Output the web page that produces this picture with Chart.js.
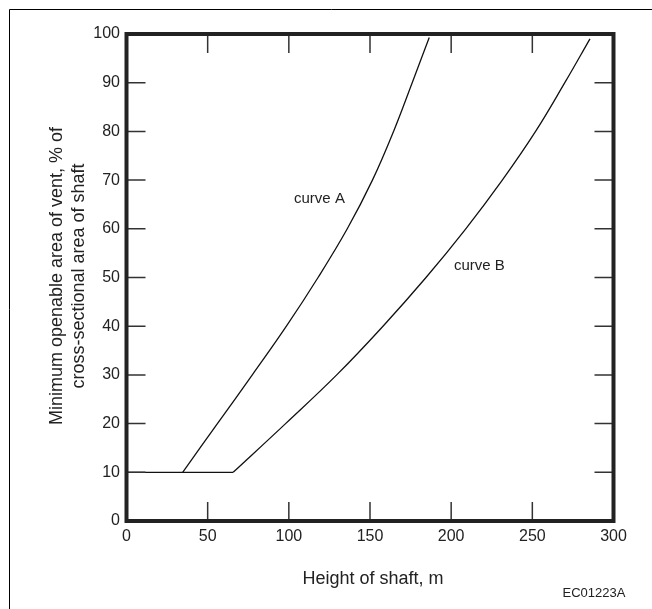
<!DOCTYPE html>
<html>
<head>
<meta charset="utf-8">
<script src="https://cdn.jsdelivr.net/npm/chart.js@4.4.1/dist/chart.umd.min.js"></script>
<style>
  body { margin: 0; background: #fff; }
  canvas { display: block; }
</style>
</head>
<body>
<canvas id="chart" width="652" height="609"></canvas>
<script>
const xTicks = [0, 50, 100, 150, 200, 250, 300];
const yTicks = [0, 10, 20, 30, 40, 50, 60, 70, 80, 90, 100];

// flat part at 10 % shared by both curves
const flatHeight = [0, 65.7];
const flatArea = [10, 10];

const curveAHeight = [34.6, 56, 77.5, 98.5, 118, 136, 151.5, 164.5, 176, 186.5];
const curveAArea = [10, 20, 30, 40, 50, 60, 70, 80, 90, 99.3];

const curveBHeight = [65.7, 98, 129.5, 158, 184.5, 209, 231.5, 252, 270, 285.5];
const curveBArea = [10, 20, 30, 40, 50, 60, 70, 80, 90, 99];

const FONT = "'Liberation Sans', Arial, Helvetica, sans-serif";
const TEXT = "#222";

const toPoints = (xs, ys) => xs.map((x, i) => ({ x: x, y: ys[i] }));

const lineStyle = {
  borderColor: "#111",
  borderWidth: 1.3,
  pointRadius: 0,
  fill: false,
};

const decorations = {
  id: "decorations",
  afterDraw(c) {
    const { ctx, chartArea: a } = c;
    const x = c.scales.x;
    const y = c.scales.y;
    ctx.save();

    // page frame, only top and left edges are inside the picture
    ctx.strokeStyle = "#000";
    ctx.lineWidth = 1;
    ctx.beginPath();
    ctx.moveTo(9.5, 700);
    ctx.lineTo(9.5, 9.5);
    ctx.lineTo(700, 9.5);
    ctx.stroke();

    // tick marks pointing inwards on all four sides
    ctx.strokeStyle = "#333";
    ctx.lineWidth = 1.5;
    ctx.beginPath();
    yTicks.forEach((v) => {
      const py = y.getPixelForValue(v);
      ctx.moveTo(a.left, py);
      ctx.lineTo(a.left + 19, py);
      ctx.moveTo(a.right, py);
      ctx.lineTo(a.right - 19, py);
    });
    xTicks.forEach((v) => {
      const px = x.getPixelForValue(v);
      ctx.moveTo(px, a.bottom);
      ctx.lineTo(px, a.bottom - 19);
      ctx.moveTo(px, a.top);
      ctx.lineTo(px, a.top + 19);
    });
    ctx.stroke();

    // heavy plot border
    ctx.strokeStyle = "#222";
    ctx.lineWidth = 4;
    ctx.strokeRect(a.left, a.top, a.right - a.left, a.bottom - a.top);

    ctx.fillStyle = TEXT;
    ctx.textBaseline = "alphabetic";

    // curve labels
    ctx.font = "15px " + FONT;
    ctx.textAlign = "left";
    ctx.fillText("curve A", x.getPixelForValue(103.2), y.getPixelForValue(65.4));
    ctx.fillText("curve B", x.getPixelForValue(201.7), y.getPixelForValue(51.5));

    // x axis title
    ctx.font = "18px " + FONT;
    ctx.textAlign = "center";
    ctx.fillText("Height of shaft, m", (a.left + a.right) / 2 + 3, 584);

    // y axis title, two lines
    ctx.save();
    ctx.translate(0, 276);
    ctx.rotate(-Math.PI / 2);
    ctx.fillText("Minimum openable area of vent, % of", 0, 62);
    ctx.fillText("cross-sectional area of shaft", 0, 83.5);
    ctx.restore();

    // drawing code
    ctx.font = "13px " + FONT;
    ctx.textAlign = "left";
    ctx.fillText("EC01223A", 562.5, 596.5);

    ctx.restore();
  },
};

new Chart(document.getElementById("chart"), {
  type: "line",
  data: {
    datasets: [
      Object.assign({ label: "base", data: toPoints(flatHeight, flatArea), tension: 0 }, lineStyle),
      Object.assign({ label: "curve A", data: toPoints(curveAHeight, curveAArea), tension: 0.4 }, lineStyle),
      Object.assign({ label: "curve B", data: toPoints(curveBHeight, curveBArea), tension: 0.4 }, lineStyle),
    ],
  },
  options: {
    responsive: false,
    animation: false,
    events: [],
    layout: {
      padding: { top: 34, right: 38.5, left: 0, bottom: 0 },
    },
    plugins: {
      legend: { display: false },
      tooltip: { enabled: false },
    },
    scales: {
      x: {
        type: "linear",
        min: 0,
        max: 300,
        grid: { display: false, drawTicks: false },
        border: { display: false },
        afterBuildTicks: (s) => {
          s.ticks = xTicks.map((v) => ({ value: v }));
        },
        afterFit: (s) => {
          s.height = 88;
        },
        ticks: {
          color: TEXT,
          padding: 6,
          maxRotation: 0,
          font: { family: FONT, size: 16 },
        },
      },
      y: {
        type: "linear",
        min: 0,
        max: 100,
        grid: { display: false, drawTicks: false },
        border: { display: false },
        afterBuildTicks: (s) => {
          s.ticks = yTicks.map((v) => ({ value: v }));
        },
        afterFit: (s) => {
          s.width = 126.5;
        },
        ticks: {
          color: TEXT,
          padding: 6.5,
          font: { family: FONT, size: 16 },
        },
      },
    },
  },
  plugins: [decorations],
});
</script>
</body>
</html>
